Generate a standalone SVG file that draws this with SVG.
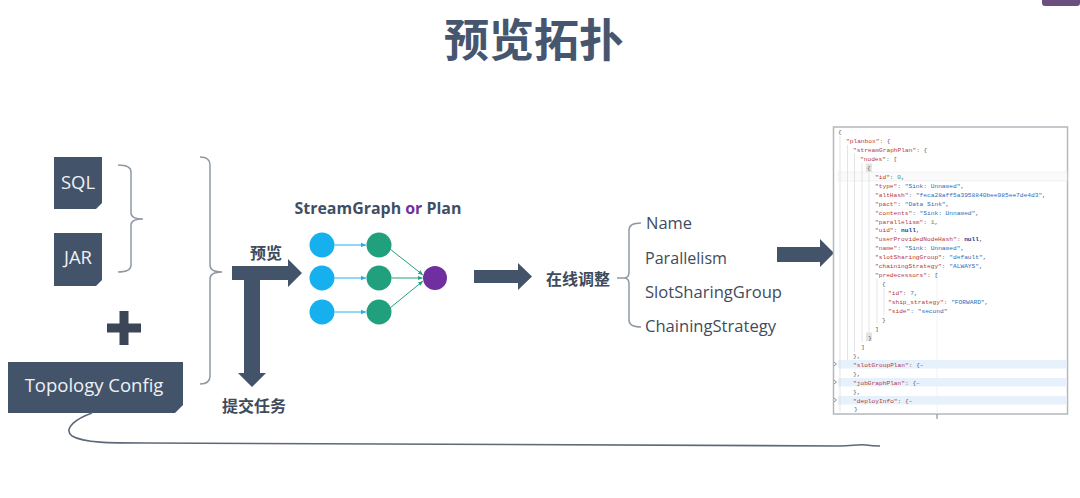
<svg xmlns="http://www.w3.org/2000/svg" width="1080" height="498" viewBox="0 0 1080 498">
<style>
.dark{fill:#435369}
.box-t{font-family:"Open Sans","Noto Sans",sans-serif;font-size:18.5px;fill:#eef1f4;text-anchor:middle;dominant-baseline:central}
.cn{font-family:"Noto Sans CJK SC",sans-serif;font-weight:700;fill:#3e4b5c}
.lbl{font-family:"Open Sans","Noto Sans",sans-serif;font-size:16px;fill:#3f4c5d;dominant-baseline:central}
.brace{fill:none;stroke:#8f99a5;stroke-width:1.5}
.js{font-family:"Liberation Mono",monospace;font-size:6.2px;fill:#555}
.k{fill:#b83a3a}.s{fill:#2e6cb8}.n{fill:#2a9d6e}.nl{fill:#1b3d8f;font-weight:700}
.guide{stroke:#d6d9dc;stroke-width:0.7}
</style>
<defs>
<marker id="ab" markerWidth="6" markerHeight="6" refX="5" refY="3" orient="auto" markerUnits="userSpaceOnUse"><path d="M0,0.8 L5,3 L0,5.2 z" fill="#1fb0ee"/></marker>
<marker id="ag" markerWidth="6" markerHeight="6" refX="5" refY="3" orient="auto" markerUnits="userSpaceOnUse"><path d="M0,0.8 L5,3 L0,5.2 z" fill="#22a07e"/></marker>
</defs>
<rect width="1080" height="498" fill="#ffffff"/>
<rect x="1042" y="-4" width="38" height="10" rx="3" fill="#6b4f7e"/>

<g id="title"><text x="534" y="57" class="cn" font-size="45" text-anchor="middle" fill="#46566e" style="fill:#46566e">预览拓扑</text></g>

<g id="sql"><polygon class="dark" points="54,157 102,157 102,203 96,209 54,209"/><text class="box-t" x="78" y="181">SQL</text></g>
<g id="jar"><polygon class="dark" points="54,233 102,233 102,280 96,286 54,286"/><text class="box-t" x="78" y="256">JAR</text></g>
<g id="plus"><rect x="107" y="323.5" width="34" height="9" fill="#3b4657"/><rect x="119.5" y="311" width="9" height="34" fill="#3b4657"/></g>
<g id="topology"><polygon class="dark" points="8,362 183,362 183,405 175,413 8,413"/><text class="box-t" x="94" y="384">Topology Config</text></g>

<g id="braces">
<path class="brace" d="M118,165 Q131,165 131,172 L131,213 Q131,219 143,219 Q131,219 131,225 L131,265 Q131,272 118,272"/>
<path class="brace" d="M200,157 Q210,157 210,165 L210,265 Q210,272 222,272 Q210,272 210,279 L210,376 Q210,384 200,384"/>
</g>

<g id="t-arrow"><polygon class="dark" points="232,266 288,266 288,259 302,273 288,287 288,280 260,280 260,373 266,373 252,387 238,373 244,373 244,280 232,280"/>
<text class="cn" x="266" y="259" font-size="16" text-anchor="middle">预览</text>
<text class="cn" x="254" y="412" font-size="16" text-anchor="middle">提交任务</text></g>

<g id="graph">
<text x="378" y="214" font-family="'Open Sans','Noto Sans',sans-serif" font-weight="700" font-size="15.5" text-anchor="middle" fill="#3f4f63" textLength="167" lengthAdjust="spacingAndGlyphs">StreamGraph <tspan fill="#7030a0">or</tspan> Plan</text>
<g id="edges">
<line x1="334.5" y1="245" x2="366" y2="245" stroke="#1fb0ee" stroke-width="1" marker-end="url(#ab)"/>
<line x1="334.5" y1="278" x2="366" y2="278" stroke="#1fb0ee" stroke-width="1" marker-end="url(#ab)"/>
<line x1="334.5" y1="312" x2="366" y2="312" stroke="#1fb0ee" stroke-width="1" marker-end="url(#ab)"/>
<line x1="390" y1="249" x2="423" y2="275" stroke="#22a07e" stroke-width="1" marker-end="url(#ag)"/>
<line x1="391.5" y1="278" x2="422.5" y2="278" stroke="#22a07e" stroke-width="1" marker-end="url(#ag)"/>
<line x1="390" y1="308" x2="423" y2="281" stroke="#22a07e" stroke-width="1" marker-end="url(#ag)"/>
</g>
<g id="n-b1"><circle cx="322" cy="245" r="12.5" fill="#17b0ef"/></g>
<g id="n-b2"><circle cx="322" cy="278" r="12.5" fill="#17b0ef"/></g>
<g id="n-b3"><circle cx="322" cy="312" r="12.5" fill="#17b0ef"/></g>
<g id="n-g1"><circle cx="379" cy="245" r="12.5" fill="#21a07e"/></g>
<g id="n-g2"><circle cx="379" cy="278" r="12.5" fill="#21a07e"/></g>
<g id="n-g3"><circle cx="379" cy="312" r="12.5" fill="#21a07e"/></g>
<g id="n-p"><circle cx="435" cy="278" r="12" fill="#6f2f9f"/></g>
</g>

<g id="adjust">
<polygon class="dark" points="474,270 518,270 518,263 532,276.5 518,290 518,283 474,283"/>
<text class="cn" x="578" y="285" font-size="16" text-anchor="middle">在线调整</text>
<path class="brace" d="M617,278 L627,278 M641,223 Q629,223 629,230 L629,272 Q629,278 624,278 Q629,278 629,284 L629,320 Q629,327 641,327"/>
<text class="lbl" x="646" y="223" textLength="46" lengthAdjust="spacingAndGlyphs">Name</text>
<text class="lbl" x="645" y="258" textLength="82" lengthAdjust="spacingAndGlyphs">Parallelism</text>
<text class="lbl" x="645" y="292" textLength="137" lengthAdjust="spacingAndGlyphs">SlotSharingGroup</text>
<text class="lbl" x="645" y="326" textLength="131" lengthAdjust="spacingAndGlyphs">ChainingStrategy</text>
</g>

<g id="arrow3"><polygon class="dark" points="777,247 820,247 820,239 834,253 820,267 820,262 777,262"/></g>

<g id="json-panel">
<rect x="833.5" y="127" width="234" height="287" fill="#ffffff" stroke="#b3b8be" stroke-width="1.5"/>
<line x1="937" y1="240" x2="937" y2="414" stroke="#eceef0" stroke-width="0.7"/>
<line x1="937" y1="414" x2="937" y2="419" stroke="#7a7f85" stroke-width="1"/>
<rect x="838" y="172" width="229" height="9" fill="#fafafa" stroke="#ececec" stroke-width="0.6"/>
<rect x="838" y="360" width="229" height="8.5" fill="#e6f1fb"/>
<rect x="838" y="378" width="229" height="8.5" fill="#e6f1fb"/>
<rect x="838" y="396" width="229" height="8.5" fill="#e6f1fb"/>
<rect x="866" y="163.5" width="6" height="8.5" fill="#e4e4e4"/>
<rect x="866" y="332.5" width="6" height="8.5" fill="#e4e4e4"/>
<g class="guide">
<line x1="840" y1="136" x2="840" y2="412"/>
<line x1="847.5" y1="145" x2="847.5" y2="360"/>
<line x1="854.5" y1="154" x2="854.5" y2="352"/>
<line x1="862" y1="163" x2="862" y2="342"/>
<line x1="869" y1="172" x2="869" y2="333"/>
<line x1="877" y1="279" x2="877" y2="324"/>
<line x1="884" y1="288" x2="884" y2="315"/>
</g>
<path d="M834,362 L836.5,364 L834,366 M834,380 L836.5,382 L834,384 M834,398 L836.5,400 L834,402" fill="none" stroke="#666" stroke-width="0.7"/>
<g class="js">
<text x="838" y="133.5">{</text>
<text x="846" y="142.5"><tspan class="k">"planbox"</tspan>: {</text>
<text x="853" y="151.5"><tspan class="k">"streamGraphPlan"</tspan>: {</text>
<text x="860" y="160.5"><tspan class="k">"nodes"</tspan>: [</text>
<text x="867" y="169.5">{</text>
<text x="875" y="178.5"><tspan class="k">"id"</tspan>: <tspan class="n">0</tspan>,</text>
<text x="875" y="187.5"><tspan class="k">"type"</tspan>: <tspan class="s">"Sink: Unnamed"</tspan>,</text>
<text x="875" y="196.5"><tspan class="k">"altHash"</tspan>: <tspan class="s">"feca28aff5a3958840bee985ee7de4d3"</tspan>,</text>
<text x="875" y="205.5"><tspan class="k">"pact"</tspan>: <tspan class="s">"Data Sink"</tspan>,</text>
<text x="875" y="214.5"><tspan class="k">"contents"</tspan>: <tspan class="s">"Sink: Unnamed"</tspan>,</text>
<text x="875" y="223.5"><tspan class="k">"parallelism"</tspan>: <tspan class="n">1</tspan>,</text>
<text x="875" y="232"><tspan class="k">"uid"</tspan>: <tspan class="nl">null</tspan>,</text>
<text x="875" y="241"><tspan class="k">"userProvidedNodeHash"</tspan>: <tspan class="nl">null</tspan>,</text>
<text x="875" y="250"><tspan class="k">"name"</tspan>: <tspan class="s">"Sink: Unnamed"</tspan>,</text>
<text x="875" y="259"><tspan class="k">"slotSharingGroup"</tspan>: <tspan class="s">"default"</tspan>,</text>
<text x="875" y="268"><tspan class="k">"chainingStrategy"</tspan>: <tspan class="s">"ALWAYS"</tspan>,</text>
<text x="875" y="277"><tspan class="k">"predecessors"</tspan>: [</text>
<text x="882" y="286">{</text>
<text x="888" y="295"><tspan class="k">"id"</tspan>: <tspan class="n">7</tspan>,</text>
<text x="888" y="304"><tspan class="k">"ship_strategy"</tspan>: <tspan class="s">"FORWARD"</tspan>,</text>
<text x="888" y="313"><tspan class="k">"side"</tspan>: <tspan class="s">"second"</tspan></text>
<text x="882" y="321.5">}</text>
<text x="875" y="330.5">]</text>
<text x="868" y="339.5">}</text>
<text x="861" y="348.5">]</text>
<text x="853" y="357.5">},</text>
<text x="853" y="366.5"><tspan class="k">"slotGroupPlan"</tspan>: {–</text>
<text x="853" y="375.5">},</text>
<text x="853" y="384.5"><tspan class="k">"jobGraphPlan"</tspan>: {–</text>
<text x="853" y="393.5">},</text>
<text x="853" y="402.5"><tspan class="k">"deployInfo"</tspan>: {–</text>
<text x="854" y="411">}</text>
</g>
</g>

<g id="connectors">
<path d="M92,413 C78,418 62,428 72,436 C84,443 110,443 147,443 L840,446 C852,446 858,444 866,445 C872,446 875,446 880,446" fill="none" stroke="#5d6978" stroke-width="1.6"/>
</g>
</svg>
